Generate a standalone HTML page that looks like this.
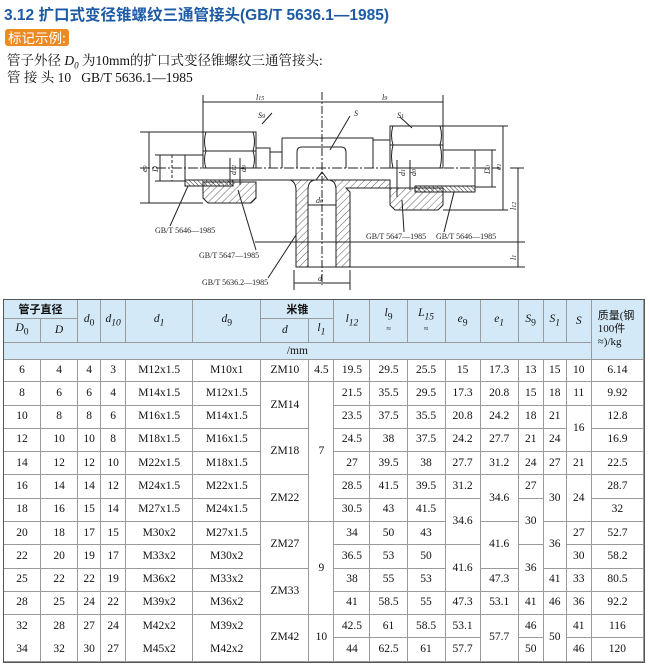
<!DOCTYPE html>
<html><head><meta charset="utf-8">
<style>
*{margin:0;padding:0;box-sizing:border-box}
body{width:650px;height:664px;background:#fff;position:relative;overflow:hidden;font-family:"Liberation Serif","Noto Serif CJK SC",serif;color:#111}
.title{position:absolute;left:4px;top:3px;font:bold 15.5px "Liberation Sans","Noto Sans CJK SC",sans-serif;color:#1d5aa6;white-space:nowrap}
.badge{position:absolute;left:5px;top:29px;width:64px;height:17px;background:#ee8a22;border-radius:3px;color:#fff;font:13.5px "Noto Sans CJK SC",sans-serif;line-height:17px;padding-left:3px}
.txt{position:absolute;left:7px;font-size:13.5px;white-space:nowrap;font-family:"Liberation Serif","Noto Serif CJK SC",serif}
svg{position:absolute;left:0;top:0}
table{position:absolute;left:3px;border-collapse:separate;border-spacing:0;table-layout:fixed;width:642px;font-size:11.5px}
td{border-right:1px solid #9a9a9a;border-bottom:1px solid #9a9a9a;text-align:center;vertical-align:middle;padding:0;overflow:hidden;white-space:nowrap;line-height:11px}
#hd{top:299px;border-top:1.5px solid #555;border-left:1.5px solid #555;border-right:1.5px solid #555}
#hd td{background:#d3e9f7}
#bd{top:359px;border-left:1.5px solid #555;border-right:1.5px solid #555;border-bottom:1.5px solid #555}
#bd tr{height:11.65px}
#bd td.nb{border-bottom:none}
i{font-style:italic}
</style></head><body>
<div class="title">3.12 扩口式变径锥螺纹三通管接头(GB/T 5636.1—1985)</div>
<div class="badge">标记示例:</div>
<div class="txt" style="top:49px">管子外径 <i>D<sub style="font-size:9px">0</sub></i> 为10mm的扩口式变径锥螺纹三通管接头:</div>
<div class="txt" style="top:66px">管 接 头 10 &nbsp; GB/T 5636.1—1985</div>

<svg width="650" height="300" viewBox="0 0 650 300">
<defs>
<pattern id="h" width="5" height="5" patternUnits="userSpaceOnUse" patternTransform="rotate(45)"><line x1="0" y1="0" x2="0" y2="5" stroke="#333" stroke-width="0.8"/></pattern>
<pattern id="t" width="3" height="3" patternUnits="userSpaceOnUse" patternTransform="rotate(-45)"><line x1="0" y1="0" x2="0" y2="3" stroke="#222" stroke-width="1"/></pattern>
</defs>
<g fill="none" stroke="#222" stroke-width="1">
<line x1="203" y1="95" x2="203" y2="132"/><line x1="322" y1="92" x2="322" y2="285" stroke-dasharray="8,2,2,2"/>
<line x1="443" y1="95" x2="443" y2="126"/>
<line x1="203" y1="102" x2="443" y2="102"/>
<line x1="172" y1="155" x2="172" y2="181" stroke-dasharray="3,2"/>
<line x1="185" y1="155" x2="203" y2="155"/><line x1="185" y1="155" x2="185" y2="181"/>
<path d="M203 132 H256 V168 H203 Z"/><line x1="203" y1="151" x2="256" y2="151"/>
<path d="M206 132 Q203 141 206 151 M253 132 Q256 141 253 151 M206 151 Q203 160 206 168 M253 151 Q256 160 253 168"/>
<path d="M256 148 H270 V168 M270 152 H282"/>
<path d="M203 182 H256 V198 L251 203 H208 L203 198 Z" fill="url(#h)"/>
<rect x="185" y="180" width="48" height="6" fill="url(#t)"/>
<path d="M282 138 H373 V168"/><line x1="282" y1="138" x2="282" y2="168"/>
<path d="M297 168 V152 Q297 147 302 147 H341 Q346 147 346 152 V168"/>
<line x1="140" y1="168" x2="500" y2="168" stroke-dasharray="10,2,2,2"/>
<line x1="185" y1="180" x2="270" y2="180"/>
<path d="M256 180 H290 Q296 182 296 190 V267 H308 V190 Q308 180 316 180 L322 172 L328 180 Q336 180 336 190 V267 H350 V192 L346 188 H390 V180 Z" fill="url(#h)"/>
<line x1="296" y1="267" x2="350" y2="267"/>
<path d="M390 126 H443 V168 H390 Z"/><line x1="390" y1="145" x2="443" y2="145"/>
<path d="M393 126 Q390 135 393 145 M440 126 Q443 135 440 145 M393 145 Q390 156 393 168 M440 145 Q443 156 440 168"/>
<path d="M373 140 H390 V168"/>
<path d="M443 150 H475 V187"/>
<path d="M390 188 H443 V205 L438 210 H395 L390 205 Z" fill="url(#h)"/>
<rect x="415" y="186" width="60" height="6" fill="url(#t)"/>
<line x1="443" y1="126" x2="508" y2="126"/><line x1="443" y1="210" x2="508" y2="210"/>
<line x1="475" y1="150" x2="496" y2="150"/><line x1="475" y1="187" x2="496" y2="187"/>
<line x1="492" y1="150" x2="492" y2="187"/><line x1="503" y1="126" x2="503" y2="210"/>
<line x1="510" y1="168" x2="524" y2="168"/>
<line x1="518" y1="168" x2="518" y2="267"/>
<line x1="255" y1="242" x2="525" y2="242"/><line x1="296" y1="267" x2="525" y2="267"/>
<line x1="140" y1="132" x2="203" y2="132"/><line x1="140" y1="203" x2="203" y2="203"/>
<line x1="149" y1="132" x2="149" y2="203"/>
<line x1="155" y1="155" x2="185" y2="155"/><line x1="155" y1="181" x2="185" y2="181"/>
<line x1="160" y1="155" x2="160" y2="181"/>
<line x1="294" y1="270" x2="294" y2="290"/><line x1="350" y1="270" x2="350" y2="290"/>
<line x1="294" y1="283" x2="350" y2="283"/><line x1="308" y1="205" x2="336" y2="205"/>
<line x1="230" y1="158" x2="230" y2="185"/><line x1="240" y1="158" x2="240" y2="185"/>
<line x1="397" y1="160" x2="397" y2="197"/><line x1="410" y1="160" x2="410" y2="190"/>
<line x1="188" y1="186" x2="170" y2="226"/><line x1="238" y1="190" x2="256" y2="250"/>
<line x1="296" y1="235" x2="268" y2="278"/>
<line x1="402" y1="200" x2="404" y2="232"/><line x1="454" y1="192" x2="444" y2="232"/>
<line x1="272" y1="113" x2="262" y2="124"/><line x1="350" y1="116" x2="330" y2="150"/><line x1="400" y1="117" x2="412" y2="128"/>
</g>
<g font-family="Liberation Serif,serif" font-size="8" fill="#222">
<text x="256" y="100" font-style="italic">l<tspan font-size="6">15</tspan></text>
<text x="382" y="100" font-style="italic">l<tspan font-size="6">9</tspan></text>
<text x="258" y="118" font-style="italic">S<tspan font-size="6">9</tspan></text>
<text x="354" y="116" font-style="italic">S</text>
<text x="397" y="118" font-style="italic">S<tspan font-size="6">1</tspan></text>
<text x="316" y="203" font-style="italic">d<tspan font-size="6">0</tspan></text>
<text x="318" y="281" font-style="italic">d</text>
<text x="155" y="233">GB/T 5646—1985</text>
<text x="199" y="258">GB/T 5647—1985</text>
<text x="202" y="285">GB/T 5636.2—1985</text>
<text x="366" y="239">GB/T 5647—1985</text>
<text x="436" y="239">GB/T 5646—1985</text>
<text transform="translate(147,172) rotate(-90)" font-style="italic">e<tspan font-size="6">9</tspan></text>
<text transform="translate(158,172) rotate(-90)" font-style="italic">D</text>
<text transform="translate(236,175) rotate(-90)" font-style="italic">d<tspan font-size="6">12</tspan></text>
<text transform="translate(246,172) rotate(-90)" font-style="italic">d<tspan font-size="6">9</tspan></text>
<text transform="translate(405,176) rotate(-90)" font-style="italic">d<tspan font-size="6">1</tspan></text>
<text transform="translate(416,176) rotate(-90)" font-style="italic">d<tspan font-size="6">0</tspan></text>
<text transform="translate(490,174) rotate(-90)" font-style="italic">D<tspan font-size="6">0</tspan></text>
<text transform="translate(501,170) rotate(-90)" font-style="italic">e<tspan font-size="6">1</tspan></text>
<text transform="translate(516,210) rotate(-90)" font-style="italic">l<tspan font-size="6">12</tspan></text>
<text transform="translate(516,260) rotate(-90)" font-style="italic">l<tspan font-size="6">1</tspan></text>
</g>
</svg>

<table id="hd">
<colgroup><col style="width:37px"><col style="width:37px"><col style="width:23px"><col style="width:25px"><col style="width:67px"><col style="width:68px"><col style="width:48px"><col style="width:25px"><col style="width:36px"><col style="width:37px"><col style="width:38px"><col style="width:35px"><col style="width:38px"><col style="width:25px"><col style="width:23px"><col style="width:25px"><col style="width:52px"></colgroup>
<tr style="height:19px"><td colspan="2" style="font-family:'Noto Sans CJK SC',sans-serif;font-weight:bold;font-size:11px">管子直径</td><td rowspan="2"><i>d</i><sub>0</sub></td><td rowspan="2"><i>d<sub>10</sub></i></td><td rowspan="2"><i>d<sub>1</sub></i></td><td rowspan="2"><i>d</i><sub>9</sub></td><td colspan="2" style="font-family:'Noto Sans CJK SC',sans-serif;font-weight:bold;font-size:11px">米锥</td><td rowspan="2"><i>l<sub>12</sub></i></td><td rowspan="2"><i>l</i><sub>9</sub><br><span style="font-size:8px">≈</span></td><td rowspan="2"><i>L<sub>15</sub></i><br><span style="font-size:8px">≈</span></td><td rowspan="2"><i>e</i><sub>9</sub></td><td rowspan="2"><i>e<sub>1</sub></i></td><td rowspan="2"><i>S</i><sub>9</sub></td><td rowspan="2"><i>S<sub>1</sub></i></td><td rowspan="2"><i>S</i></td><td rowspan="3" style="font-size:11px;line-height:13px;text-align:left;padding-left:6px;font-family:'Liberation Serif','Noto Sans CJK SC',serif">质量(钢<br>100件<br>≈)/kg</td></tr>
<tr style="height:24px"><td><i>D</i><sub>0</sub></td><td><i>D</i></td><td><i>d</i></td><td><i>l<sub>1</sub></i></td></tr>
<tr style="height:17px"><td colspan="16">/mm</td></tr>
</table>

<table id="bd">
<colgroup><col style="width:37px"><col style="width:37px"><col style="width:23px"><col style="width:25px"><col style="width:67px"><col style="width:68px"><col style="width:48px"><col style="width:25px"><col style="width:36px"><col style="width:37px"><col style="width:38px"><col style="width:35px"><col style="width:38px"><col style="width:25px"><col style="width:23px"><col style="width:25px"><col style="width:52px"></colgroup>
<tr><td rowspan="2">6</td><td rowspan="2">4</td><td rowspan="2">4</td><td rowspan="2">3</td><td rowspan="2">M12x1.5</td><td rowspan="2">M10x1</td><td rowspan="2">ZM10</td><td rowspan="2">4.5</td><td rowspan="2">19.5</td><td rowspan="2">29.5</td><td rowspan="2">25.5</td><td rowspan="2">15</td><td rowspan="2">17.3</td><td rowspan="2">13</td><td rowspan="2">15</td><td rowspan="2">10</td><td rowspan="2">6.14</td></tr><tr></tr>
<tr><td rowspan="2">8</td><td rowspan="2">6</td><td rowspan="2">6</td><td rowspan="2">4</td><td rowspan="2">M14x1.5</td><td rowspan="2">M12x1.5</td><td rowspan="4">ZM14</td><td rowspan="12">7</td><td rowspan="2">21.5</td><td rowspan="2">35.5</td><td rowspan="2">29.5</td><td rowspan="2">17.3</td><td rowspan="2">20.8</td><td rowspan="2">15</td><td rowspan="2">18</td><td rowspan="2">11</td><td rowspan="2">9.92</td></tr><tr></tr>
<tr><td rowspan="2">10</td><td rowspan="2">8</td><td rowspan="2">8</td><td rowspan="2">6</td><td rowspan="2">M16x1.5</td><td rowspan="2">M14x1.5</td><td rowspan="2">23.5</td><td rowspan="2">37.5</td><td rowspan="2">35.5</td><td rowspan="2">20.8</td><td rowspan="2">24.2</td><td rowspan="2">18</td><td rowspan="2">21</td><td rowspan="4">16</td><td rowspan="2">12.8</td></tr><tr></tr>
<tr><td rowspan="2">12</td><td rowspan="2">10</td><td rowspan="2">10</td><td rowspan="2">8</td><td rowspan="2">M18x1.5</td><td rowspan="2">M16x1.5</td><td rowspan="4">ZM18</td><td rowspan="2">24.5</td><td rowspan="2">38</td><td rowspan="2">37.5</td><td rowspan="2">24.2</td><td rowspan="2">27.7</td><td rowspan="2">21</td><td rowspan="2">24</td><td rowspan="2">16.9</td></tr><tr></tr>
<tr><td rowspan="2">14</td><td rowspan="2">12</td><td rowspan="2">12</td><td rowspan="2">10</td><td rowspan="2">M22x1.5</td><td rowspan="2">M18x1.5</td><td rowspan="2">27</td><td rowspan="2">39.5</td><td rowspan="2">38</td><td rowspan="2">27.7</td><td rowspan="2">31.2</td><td rowspan="2">24</td><td rowspan="2">27</td><td rowspan="2">21</td><td rowspan="2">22.5</td></tr><tr></tr>
<tr><td rowspan="2">16</td><td rowspan="2">14</td><td rowspan="2">14</td><td rowspan="2">12</td><td rowspan="2">M24x1.5</td><td rowspan="2">M22x1.5</td><td rowspan="4">ZM22</td><td rowspan="2">28.5</td><td rowspan="2">41.5</td><td rowspan="2">39.5</td><td rowspan="2">31.2</td><td rowspan="4">34.6</td><td rowspan="2">27</td><td rowspan="4">30</td><td rowspan="4">24</td><td rowspan="2">28.7</td></tr><tr></tr>
<tr><td rowspan="2">18</td><td rowspan="2">16</td><td rowspan="2">15</td><td rowspan="2">14</td><td rowspan="2">M27x1.5</td><td rowspan="2">M24x1.5</td><td rowspan="2">30.5</td><td rowspan="2">43</td><td rowspan="2">41.5</td><td rowspan="4">34.6</td><td rowspan="4">30</td><td rowspan="2">32</td></tr><tr></tr>
<tr><td rowspan="2">20</td><td rowspan="2">18</td><td rowspan="2">17</td><td rowspan="2">15</td><td rowspan="2">M30x2</td><td rowspan="2">M27x1.5</td><td rowspan="4">ZM27</td><td rowspan="8">9</td><td rowspan="2">34</td><td rowspan="2">50</td><td rowspan="2">43</td><td rowspan="4">41.6</td><td rowspan="4">36</td><td rowspan="2">27</td><td rowspan="2">52.7</td></tr><tr></tr>
<tr><td rowspan="2">22</td><td rowspan="2">20</td><td rowspan="2">19</td><td rowspan="2">17</td><td rowspan="2">M33x2</td><td rowspan="2">M30x2</td><td rowspan="2">36.5</td><td rowspan="2">53</td><td rowspan="2">50</td><td rowspan="4">41.6</td><td rowspan="4">36</td><td rowspan="2">30</td><td rowspan="2">58.2</td></tr><tr></tr>
<tr><td rowspan="2">25</td><td rowspan="2">22</td><td rowspan="2">22</td><td rowspan="2">19</td><td rowspan="2">M36x2</td><td rowspan="2">M33x2</td><td rowspan="4">ZM33</td><td rowspan="2">38</td><td rowspan="2">55</td><td rowspan="2">53</td><td rowspan="2">47.3</td><td rowspan="2">41</td><td rowspan="2">33</td><td rowspan="2">80.5</td></tr><tr></tr>
<tr><td rowspan="2">28</td><td rowspan="2">25</td><td rowspan="2">24</td><td rowspan="2">22</td><td rowspan="2">M39x2</td><td rowspan="2">M36x2</td><td rowspan="2">41</td><td rowspan="2">58.5</td><td rowspan="2">55</td><td rowspan="2">47.3</td><td rowspan="2">53.1</td><td rowspan="2">41</td><td rowspan="2">46</td><td rowspan="2">36</td><td rowspan="2">92.2</td></tr><tr></tr>
<tr><td rowspan="2" class="nb">32</td><td rowspan="2" class="nb">28</td><td rowspan="2" class="nb">27</td><td rowspan="2" class="nb">24</td><td rowspan="2" class="nb">M42x2</td><td rowspan="2" class="nb">M39x2</td><td rowspan="4">ZM42</td><td rowspan="4">10</td><td rowspan="2">42.5</td><td rowspan="2">61</td><td rowspan="2">58.5</td><td rowspan="2">53.1</td><td rowspan="4">57.7</td><td rowspan="2">46</td><td rowspan="4">50</td><td rowspan="2">41</td><td rowspan="2">116</td></tr><tr></tr>
<tr><td rowspan="2">34</td><td rowspan="2">32</td><td rowspan="2">30</td><td rowspan="2">27</td><td rowspan="2">M45x2</td><td rowspan="2">M42x2</td><td rowspan="2">44</td><td rowspan="2">62.5</td><td rowspan="2">61</td><td rowspan="2">57.7</td><td rowspan="2">50</td><td rowspan="2">46</td><td rowspan="2">120</td></tr><tr></tr>
</table>
</body></html>
